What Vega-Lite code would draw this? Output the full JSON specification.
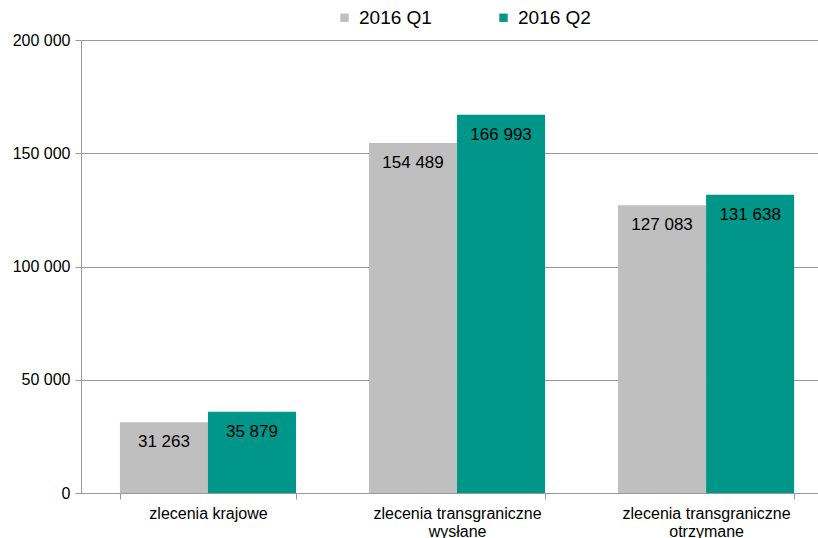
{
  "$schema": "https://vega.github.io/schema/vega-lite/v6.json",
  "width": 737,
  "height": 453,
  "autosize": {"type": "none"},
  "padding": {"left": 81, "top": 40, "right": 0, "bottom": 45},
  "background": "white",
  "config": {
    "font": "Liberation Sans",
    "view": {"stroke": null},
    "locale": {"number": {"decimal": ",", "thousands": " ", "grouping": [3], "currency": ["", " zł"]}}
  },
  "data": {
    "values": [
      {"kategoria": "zlecenia krajowe", "okres": "2016 Q1", "wartosc": 31263},
      {"kategoria": "zlecenia krajowe", "okres": "2016 Q2", "wartosc": 35879},
      {"kategoria": "zlecenia transgraniczne wysłane", "okres": "2016 Q1", "wartosc": 154489},
      {"kategoria": "zlecenia transgraniczne wysłane", "okres": "2016 Q2", "wartosc": 166993},
      {"kategoria": "zlecenia transgraniczne otrzymane", "okres": "2016 Q1", "wartosc": 127083},
      {"kategoria": "zlecenia transgraniczne otrzymane", "okres": "2016 Q2", "wartosc": 131638}
    ]
  },
  "encoding": {
    "x": {
      "field": "kategoria",
      "type": "nominal",
      "sort": null,
      "scale": {"paddingInner": 0.293, "paddingOuter": 0.126, "align": 0.62},
      "axis": {
        "title": null,
        "labelAngle": 0,
        "labelFontSize": 16,
        "labelColor": "#000000",
        "labelPadding": 6,
        "labelLineHeight": 18,
        "labelExpr": "split(replace(datum.label, 'transgraniczne ', 'transgraniczne|'), '|')",
        "tickBand": "extent",
        "tickSize": 6,
        "tickColor": "#999999",
        "domainColor": "#999999",
        "grid": false
      }
    },
    "xOffset": {"field": "okres", "type": "nominal", "sort": ["2016 Q1", "2016 Q2"]},
    "y": {
      "field": "wartosc",
      "type": "quantitative",
      "scale": {"domain": [0, 200000], "nice": false},
      "axis": {
        "title": null,
        "values": [0, 50000, 100000, 150000, 200000],
        "format": ",.0f",
        "labelFontSize": 16,
        "labelColor": "#000000",
        "labelPadding": 5,
        "tickSize": 6,
        "tickColor": "#999999",
        "domainColor": "#999999",
        "gridColor": "#999999",
        "gridWidth": 1
      }
    }
  },
  "layer": [
    {
      "mark": {"type": "bar"},
      "encoding": {
        "color": {
          "field": "okres",
          "type": "nominal",
          "scale": {"domain": ["2016 Q1", "2016 Q2"], "range": ["#bfbfbf", "#00968a"]},
          "legend": {
            "title": null,
            "orient": "none",
            "direction": "horizontal",
            "legendX": 254,
            "legendY": -32,
            "symbolType": "square",
            "symbolSize": 70,
            "symbolStrokeWidth": 0,
            "labelFontSize": 19,
            "labelColor": "#000000",
            "labelOffset": 5,
            "columnPadding": 62
          }
        }
      }
    },
    {
      "mark": {"type": "text", "baseline": "middle", "dy": 20, "fontSize": 17, "color": "#000000"},
      "encoding": {
        "text": {"field": "wartosc", "type": "quantitative", "format": ",.0f"}
      }
    }
  ]
}
